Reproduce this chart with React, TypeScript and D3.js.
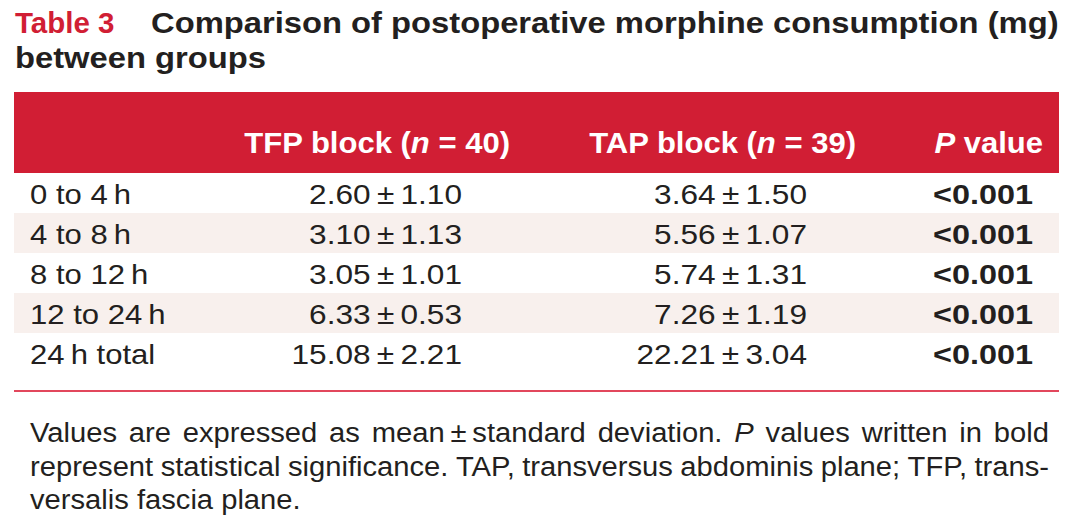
import React, { useEffect, useRef } from "react";
import * as d3 from "d3";

const W = 1080;
const H = 529;

const tableLabel = "Table 3";
const titleLine1 = "Comparison of postoperative morphine consumption (mg)";
const titleLine2 = "between groups";

const rowLabels = ["0 to 4\u2009h", "4 to 8\u2009h", "8 to 12\u2009h", "12 to 24\u2009h", "24\u2009h total"];
const tfpMean = [2.6, 3.1, 3.05, 6.33, 15.08];
const tfpSD = [1.1, 1.13, 1.01, 0.53, 2.21];
const tapMean = [3.64, 5.56, 5.74, 7.26, 22.21];
const tapSD = [1.5, 1.07, 1.31, 1.19, 3.04];
const pValues = ["<0.001", "<0.001", "<0.001", "<0.001", "<0.001"];

type Tok = { t: string; it: boolean };

const headerTFP: Tok[] = [
  { t: "TFP block (", it: false },
  { t: "n", it: true },
  { t: " = 40)", it: false },
];
const headerTAP: Tok[] = [
  { t: "TAP block (", it: false },
  { t: "n", it: true },
  { t: " = 39)", it: false },
];
const headerP: Tok[] = [
  { t: "P", it: true },
  { t: " value", it: false },
];

const footerLine1: Tok[] = [
  { t: "Values", it: false },
  { t: "are", it: false },
  { t: "expressed", it: false },
  { t: "as", it: false },
  { t: "mean\u2009±\u2009standard", it: false },
  { t: "deviation.", it: false },
  { t: "P", it: true },
  { t: "values", it: false },
  { t: "written", it: false },
  { t: "in", it: false },
  { t: "bold", it: false },
];
const footerLine2: Tok[] = [
  { t: "represent", it: false },
  { t: "statistical", it: false },
  { t: "significance.", it: false },
  { t: "TAP,", it: false },
  { t: "transversus", it: false },
  { t: "abdominis", it: false },
  { t: "plane;", it: false },
  { t: "TFP,", it: false },
  { t: "trans-", it: false },
];
const footerLine3 = "versalis fascia plane.";

const FONT = "'Liberation Sans', Arial, Helvetica, sans-serif";
const RED = "#d11e34";
const INK = "#231f20";

const fmt = d3.format(".2f");

export default function App() {
  const ref = useRef<SVGSVGElement | null>(null);

  useEffect(() => {
    const svg = d3.select(ref.current);
    svg.selectAll("*").remove();

    const tableLeft = 14;
    const tableRight = 1059;

    // Title
    const sxTitle = 1.11;
    const titleSize = 29.5;
    svg
      .append("text")
      .attr("transform", `translate(15,33) scale(1.0,1)`)
      .attr("font-family", FONT)
      .attr("font-weight", "bold")
      .attr("font-size", titleSize)
      .attr("fill", RED)
      .text(tableLabel);
    svg
      .append("text")
      .attr("transform", `translate(151,33) scale(${sxTitle},1)`)
      .attr("font-family", FONT)
      .attr("font-weight", "bold")
      .attr("font-size", titleSize)
      .attr("fill", INK)
      .text(titleLine1);
    svg
      .append("text")
      .attr("transform", `translate(15,68) scale(${sxTitle},1)`)
      .attr("font-family", FONT)
      .attr("font-weight", "bold")
      .attr("font-size", titleSize)
      .attr("fill", INK)
      .text(titleLine2);

    // Rows
    const y = d3.scaleBand<string>().domain(rowLabels).range([173, 373]).padding(0);

    svg
      .selectAll("rect.row")
      .data(rowLabels)
      .enter()
      .append("rect")
      .attr("class", "row")
      .attr("x", tableLeft)
      .attr("y", (d) => y(d)!)
      .attr("width", tableRight - tableLeft)
      .attr("height", y.bandwidth())
      .attr("fill", (_d, i) => (i % 2 === 1 ? "#f8f0ed" : "#ffffff"));

    // Header band
    svg
      .append("rect")
      .attr("x", tableLeft)
      .attr("y", 92)
      .attr("width", tableRight - tableLeft)
      .attr("height", 173 - 92)
      .attr("fill", RED);

    const headerSize = 29;
    const sxHeader = 1.07;
    const headerBase = 153;
    const drawHeader = (toks: Tok[], xRight: number) => {
      const t = svg
        .append("text")
        .attr("transform", `translate(${xRight},${headerBase}) scale(${sxHeader},1)`)
        .attr("text-anchor", "end")
        .attr("font-family", FONT)
        .attr("font-weight", "bold")
        .attr("font-size", headerSize)
        .attr("fill", "#ffffff");
      toks.forEach((k) => {
        t.append("tspan")
          .attr("font-style", k.it ? "italic" : "normal")
          .text(k.t);
      });
    };
    drawHeader(headerTFP, 510);
    drawHeader(headerTAP, 856);
    drawHeader(headerP, 1043);

    // Body text
    const bodySize = 27;
    const sxLabel = 1.15;
    const sxValue = 1.17;
    const sxP = 1.2;
    const base = (d: string) => y(d)! + 31;

    const bodyText = (sel: any) =>
      sel.attr("font-family", FONT).attr("font-size", bodySize).attr("fill", INK);

    svg
      .selectAll("text.lab")
      .data(rowLabels)
      .enter()
      .append("text")
      .attr("class", "lab")
      .attr("transform", (d) => `translate(30,${base(d)}) scale(${sxLabel},1)`)
      .call(bodyText)
      .text((d) => d);

    const pm = (m: number, s: number) => `${fmt(m)}\u2009±\u2009${fmt(s)}`;

    svg
      .selectAll("text.tfp")
      .data(rowLabels)
      .enter()
      .append("text")
      .attr("class", "tfp")
      .attr("transform", (d) => `translate(462,${base(d)}) scale(${sxValue},1)`)
      .attr("text-anchor", "end")
      .call(bodyText)
      .text((_d, i) => pm(tfpMean[i], tfpSD[i]));

    svg
      .selectAll("text.tap")
      .data(rowLabels)
      .enter()
      .append("text")
      .attr("class", "tap")
      .attr("transform", (d) => `translate(807,${base(d)}) scale(${sxValue},1)`)
      .attr("text-anchor", "end")
      .call(bodyText)
      .text((_d, i) => pm(tapMean[i], tapSD[i]));

    svg
      .selectAll("text.pv")
      .data(rowLabels)
      .enter()
      .append("text")
      .attr("class", "pv")
      .attr("transform", (d) => `translate(1033,${base(d)}) scale(${sxP},1)`)
      .attr("text-anchor", "end")
      .call(bodyText)
      .attr("font-weight", "bold")
      .text((_d, i) => pValues[i]);

    // bottom rule
    svg
      .append("line")
      .attr("x1", tableLeft)
      .attr("x2", tableRight)
      .attr("y1", 391)
      .attr("y2", 391)
      .attr("stroke", "#e2475c")
      .attr("stroke-width", 2);

    // Footer (justified)
    const footSize = 27;
    const sxFoot = 1.08;
    const footLeft = 30;
    const footRight = 1049;
    const justify = (toks: Tok[], baseY: number) => {
      const nodes = toks.map((k) =>
        svg
          .append("text")
          .attr("font-family", FONT)
          .attr("font-size", footSize)
          .attr("font-style", k.it ? "italic" : "normal")
          .attr("fill", INK)
          .text(k.t)
      );
      const widths = nodes.map((n) => (n.node() as SVGTextElement).getComputedTextLength() * sxFoot);
      const total = d3.sum(widths);
      const gap = (footRight - footLeft - total) / (toks.length - 1);
      let x = footLeft;
      nodes.forEach((n, i) => {
        n.attr("transform", `translate(${x},${baseY}) scale(${sxFoot},1)`);
        x += widths[i] + gap;
      });
    };
    justify(footerLine1, 442);
    justify(footerLine2, 476);
    svg
      .append("text")
      .attr("transform", `translate(${footLeft},509) scale(${sxFoot},1)`)
      .attr("font-family", FONT)
      .attr("font-size", footSize)
      .attr("fill", INK)
      .text(footerLine3);
  }, []);

  return (
    <svg
      ref={ref}
      width={W}
      height={H}
      viewBox={`0 0 ${W} ${H}`}
      style={{ position: "absolute", left: 0, top: 0, background: "#ffffff", display: "block" }}
    />
  );
}
